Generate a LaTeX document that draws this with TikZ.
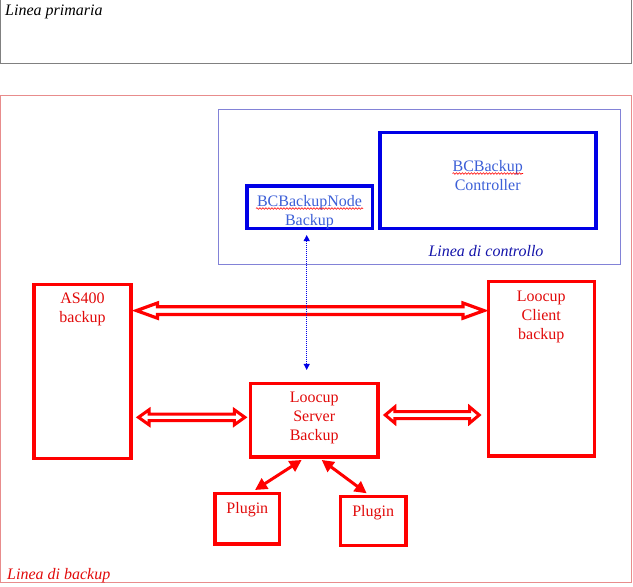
\documentclass[tikz,border=0pt]{standalone}
\usepackage{fontspec}
\setmainfont{Liberation Serif}
\usetikzlibrary{arrows.meta,calc,decorations.pathmorphing}
\definecolor{rd}{RGB}{255,0,0}
\definecolor{rtext}{RGB}{225,10,10}
\definecolor{bbox}{RGB}{0,0,230}
\definecolor{btext}{RGB}{60,95,215}
\definecolor{dblue}{RGB}{20,20,170}
\definecolor{lblue}{RGB}{130,130,215}
\definecolor{pinkline}{RGB}{232,140,140}
\definecolor{gry}{RGB}{128,128,128}
\newcommand{\hollowarr}[6][]{%
  \draw[hollow,#1] let \p1=(#2), \p2=(#3) in
    (\x1,\y1) -- ({\x1+#6},{\y1+#5}) -- ({\x1+#6},{\y1+#4}) -- ({\x2-#6},{\y1+#4})
    -- ({\x2-#6},{\y1+#5}) -- (\x2,\y1) -- ({\x2-#6},{\y1-#5}) -- ({\x2-#6},{\y1-#4})
    -- ({\x1+#6},{\y1-#4}) -- ({\x1+#6},{\y1-#5}) -- cycle;}
\begin{document}
\begin{tikzpicture}[x=1pt,y=-1pt,
  every node/.style={font=\fontsize{16}{19}\selectfont},
  rbox/.style={draw=rd, line width=3.6pt, inner sep=0pt, outer sep=0pt},
  bbx/.style={draw=bbox, line width=3.6pt, inner sep=0pt, outer sep=0pt},
  rlab/.style={anchor=north, align=center, inner sep=0pt, text=rtext, font=\fontsize{16}{19}\selectfont},
  blab/.style={anchor=north, align=center, inner sep=0pt, text=btext, font=\fontsize{16}{19}\selectfont},
  hollow/.style={draw=rd, fill=white, line width=3.2pt, line join=miter},
  plarrow/.style={draw=rd, line width=3pt, {Triangle[length=12pt,width=12pt]}-{Triangle[length=12pt,width=12pt]}},
  dotarrow/.style={draw=bbox, line width=0.9pt, dash pattern=on 1pt off 1pt, {Triangle[length=6pt,width=6pt]}-{Triangle[length=6pt,width=6pt]}},
  wavy/.style={draw=red, line width=0.6pt, decorate, decoration={snake, amplitude=0.8pt, segment length=3pt}},
  title/.style={inner sep=0pt, font=\fontsize{16}{19}\selectfont\itshape}
]
\useasboundingbox (0,0) rectangle (633,587);
% frames
\draw[gry, line width=1pt] (0.5,-5) rectangle (631.5,63);
\node[title, anchor=base west] (lp) at (5,15) {Linea primaria};
\draw[pinkline, line width=1pt] (0.5,95) rectangle (631.5,582.5);
\node[title, anchor=base west, text=rtext] (lb) at (7,579) {Linea di backup};
\draw[lblue, line width=1pt] (218.5,109.5) rectangle (620.5,264);
\node[title, anchor=base, text=dblue] (lc) at (486,256) {Linea di controllo};
% blue boxes
\node[bbx, minimum width=216pt, minimum height=96pt,
  label={[blab, yshift=-28.2pt]north:{BCBackup\\Controller}}] (ctl) at (487.7,180.3) {};
\node[bbx, minimum width=125.6pt, minimum height=42.6pt,
  label={[blab, yshift=-9pt]north:{BCBackupNode\\Backup}}] (bn) at (309.5,207) {};
\draw[wavy] (452.5,173.5) -- (523,173.5);
\draw[wavy] (256,208.5) -- (363,208.5);
% red boxes
\node[rbox, minimum width=97pt, minimum height=174pt,
  label={[rlab, yshift=-8pt]north:{AS400\\backup}}] (as) at (82.5,371.6) {};
\node[rbox, minimum width=106pt, minimum height=174.7pt,
  label={[rlab, yshift=-9.2pt]north:{Loocup\\Client\\backup}}] (cl) at (541.3,368.7) {};
\node[rbox, minimum width=127.7pt, minimum height=73.3pt,
  label={[rlab, yshift=-8.5pt]north:{Loocup\\Server\\Backup}}] (srv) at (314.2,420.3) {};
\node[rbox, minimum width=64.7pt, minimum height=50.4pt,
  label={[rlab, yshift=-8.9pt]north:{Plugin}}] (pl) at (247.3,518.5) {};
\node[rbox, minimum width=65.7pt, minimum height=49pt,
  label={[rlab, yshift=-8.5pt]north:{Plugin}}] (pr) at (373.2,520.8) {};
% hollow double arrows
\coordinate (t0) at ([xshift=5.5pt,yshift=-26pt]as.north east);
\coordinate (t1) at ($(cl.west |- t0)+(-4.3,0)$);
\hollowarr{t0}{t1}{3.8pt}{7.6pt}{21pt}
\coordinate (l1) at ([xshift=-5.5pt,yshift=3pt]srv.west);
\coordinate (l0) at ($(as.east |- l1)+(7.5,0)$);
\hollowarr[line width=3pt]{l0}{l1}{3.2pt}{7.5pt}{10.5pt}
\coordinate (r0) at ([xshift=7.2pt,yshift=5.3pt]srv.east);
\coordinate (r1) at ($(cl.west |- r0)+(-9.1,0)$);
\hollowarr[line width=3pt]{r0}{r1}{3.5pt}{8pt}{9.5pt}
% plugin arrows
\draw[plarrow] ([xshift=-12.5pt,yshift=-3pt]srv.south) -- ([xshift=7.7pt,yshift=3.3pt]pl.north);
\draw[plarrow] ([xshift=7.5pt,yshift=-3pt]srv.south) -- ([xshift=-6.5pt,yshift=3pt]pr.north);
% dotted arrow
\coordinate (dt) at ([xshift=-2.8pt,yshift=-6.7pt]bn.south);
\coordinate (db) at ($(dt |- srv.north)+(0,-13.7)$);
\draw[dotarrow] (dt) -- (db);
\end{tikzpicture}
\end{document}
